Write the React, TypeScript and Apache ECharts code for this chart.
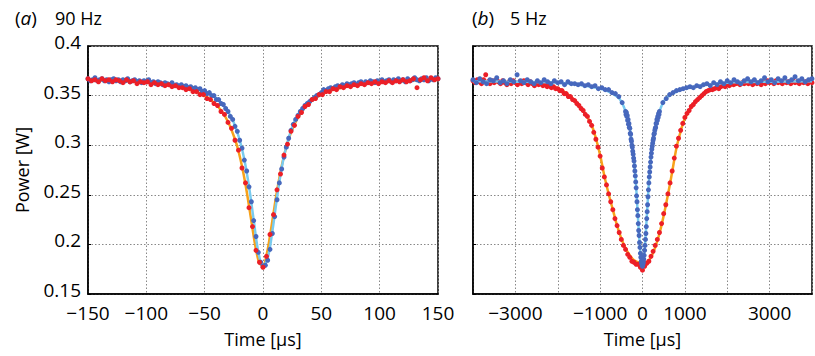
import React, { useEffect, useRef } from 'react';
import * as echarts from 'echarts';

const FONT = 'Open Sans';
const MINUS = '\u2212';

// ---- tick labels ----
const yTickValues = [0.15, 0.2, 0.25, 0.3, 0.35, 0.4];
const leftXTickValues = [-150, -100, -50, 0, 50, 100, 150];
const rightXLabelled = [-3000, -1000, 0, 1000, 3000];
const panelTags = ['a', 'b'];
const panelFreqs = ['90 Hz', '5 Hz'];

// ---- panel (a) 90 Hz : blue samples every 2 µs from -150 ----
const leftBlueStart = -150;
const leftBlueStep = 2;
const leftBlueY = [
  0.367, 0.365, 0.366, 0.368, 0.365, 0.366, 0.367, 0.365, 0.366, 0.364,
  0.366, 0.367, 0.365, 0.366, 0.364, 0.366, 0.365, 0.367, 0.364, 0.365,
  0.366, 0.364, 0.365, 0.363, 0.365, 0.364, 0.366, 0.363, 0.364, 0.362,
  0.364, 0.363, 0.361, 0.363, 0.362, 0.361, 0.363, 0.36, 0.361, 0.359,
  0.361, 0.359, 0.36, 0.358, 0.359, 0.357, 0.358, 0.356, 0.357, 0.354,
  0.355, 0.352, 0.353, 0.35, 0.35, 0.346, 0.346, 0.342, 0.341, 0.337,
  0.334, 0.329, 0.326, 0.319, 0.314, 0.305, 0.297, 0.285, 0.274, 0.258,
  0.243, 0.224, 0.208, 0.192, 0.182, 0.178, 0.179, 0.184, 0.195, 0.211,
  0.228, 0.245, 0.262, 0.276, 0.288, 0.298, 0.307, 0.315, 0.321, 0.326,
  0.33, 0.334, 0.337, 0.34, 0.342, 0.344, 0.346, 0.348, 0.35, 0.351,
  0.353, 0.356, 0.355, 0.357, 0.358, 0.357, 0.359, 0.36, 0.359, 0.361,
  0.36, 0.362, 0.361, 0.362, 0.363, 0.361, 0.363, 0.364, 0.362, 0.364,
  0.363, 0.365, 0.364, 0.363, 0.365, 0.364, 0.366, 0.364, 0.365, 0.366,
  0.364, 0.366, 0.365, 0.367, 0.365, 0.366, 0.364, 0.367, 0.365, 0.366,
  0.368, 0.366, 0.365, 0.367, 0.366, 0.368, 0.365, 0.367, 0.366, 0.368,
  0.367,
];

// ---- panel (a) 90 Hz : red samples every 3 µs from -150 ----
const leftRedStart = -150;
const leftRedStep = 3;
const leftRedY = [
  0.367, 0.365, 0.366, 0.364, 0.367, 0.365, 0.366, 0.364, 0.366, 0.365,
  0.363, 0.366, 0.364, 0.365, 0.362, 0.364, 0.363, 0.364, 0.361, 0.363,
  0.361, 0.362, 0.36, 0.361, 0.359, 0.36, 0.358, 0.358, 0.356, 0.357,
  0.354, 0.354, 0.351, 0.351, 0.347, 0.346, 0.342, 0.34, 0.334, 0.331,
  0.323, 0.317, 0.305, 0.295, 0.277, 0.262, 0.237, 0.218, 0.194, 0.182,
  0.177, 0.188, 0.21, 0.23, 0.255, 0.271, 0.29, 0.301, 0.314, 0.32,
  0.329, 0.333, 0.339, 0.341, 0.346, 0.347, 0.351, 0.351, 0.354, 0.354,
  0.357, 0.356, 0.359, 0.358, 0.36, 0.359, 0.361, 0.36, 0.362, 0.361,
  0.363, 0.362, 0.364, 0.362, 0.364, 0.363, 0.365, 0.363, 0.365, 0.364,
  0.366, 0.364, 0.365, 0.367, 0.358, 0.366, 0.368, 0.365, 0.368, 0.366,
  0.367,
];

// ---- panel (a) fitted curves ----
const leftBlueFitX = [-150, -120, -100, -80, -60, -50, -40, -35, -30, -25, -20, -16, -12, -8, -4, 0, 4, 8, 12, 16, 20, 25, 30, 35, 40, 50, 60, 80, 100, 120, 150];
const leftBlueFitY = [0.3664, 0.3654, 0.3643, 0.3624, 0.3582, 0.3542, 0.3473, 0.3418, 0.334, 0.3226, 0.3055, 0.2856, 0.2585, 0.2248, 0.1923, 0.178, 0.186, 0.213, 0.247, 0.277, 0.299, 0.318, 0.331, 0.339, 0.345, 0.353, 0.358, 0.362, 0.364, 0.365, 0.366];
const leftRedFitX = [-150, -120, -99, -81, -60, -51, -42, -36, -30, -24, -21, -18, -15, -12, -9, -6, -3, 0, 3, 6, 9, 12, 15, 18, 21, 24, 30, 36, 42, 51, 60, 81, 100, 120, 150];
const leftRedFitY = [0.3658, 0.3646, 0.3631, 0.3607, 0.355, 0.3504, 0.3429, 0.3352, 0.3237, 0.306, 0.2939, 0.2787, 0.2604, 0.239, 0.216, 0.1949, 0.1809, 0.1787, 0.1892, 0.2085, 0.2314, 0.2535, 0.273, 0.2892, 0.3023, 0.3128, 0.328, 0.3381, 0.3449, 0.3516, 0.3558, 0.361, 0.3632, 0.3648, 0.3658];

// ---- panel (b) 5 Hz : blue samples ----
const rightBlueOuterLeftStart = -4000;
const rightBlueOuterStep = 80;
const rightBlueOuterLeftY = [
  0.366, 0.363, 0.367, 0.364, 0.362, 0.366, 0.365, 0.368, 0.363, 0.365,
  0.362, 0.366, 0.364, 0.371, 0.365, 0.363, 0.366, 0.364, 0.362, 0.365,
  0.363, 0.366, 0.364, 0.362, 0.365, 0.363, 0.364, 0.361, 0.364, 0.362,
  0.362, 0.361, 0.362, 0.36, 0.361, 0.359, 0.36, 0.357, 0.358, 0.356,
  0.356, 0.353, 0.352, 0.349, 0.343,
];
const rightBlueCoreStart = -400;
const rightBlueCoreStep = 10;
const rightBlueCoreY = [
  0.334, 0.331, 0.333, 0.329, 0.33, 0.325, 0.326, 0.321, 0.322, 0.318,
  0.317, 0.312, 0.311, 0.306, 0.304, 0.3, 0.298, 0.294, 0.291, 0.287,
  0.284, 0.279, 0.274, 0.269, 0.263, 0.257, 0.249, 0.243, 0.235, 0.229,
  0.221, 0.214, 0.209, 0.202, 0.197, 0.191, 0.187, 0.183, 0.181, 0.179,
  0.178, 0.18, 0.182, 0.185, 0.189, 0.194, 0.199, 0.205, 0.211, 0.218,
  0.226, 0.233, 0.24, 0.248, 0.255, 0.262, 0.268, 0.273, 0.278, 0.283,
  0.288, 0.292, 0.296, 0.299, 0.302, 0.305, 0.307, 0.311, 0.312, 0.315,
  0.317, 0.318, 0.322, 0.322, 0.326, 0.325, 0.329, 0.328, 0.332, 0.331,
  0.334,
];
const rightBlueOuterRightStart = 480;
const rightBlueOuterRightY = [
  0.343, 0.347, 0.351, 0.353, 0.355, 0.356, 0.357, 0.358, 0.359, 0.358,
  0.36, 0.359, 0.361, 0.362, 0.36, 0.363, 0.361, 0.364, 0.362, 0.365,
  0.363, 0.366, 0.364, 0.362, 0.365, 0.367, 0.364, 0.366, 0.363, 0.365,
  0.368, 0.364, 0.366, 0.363, 0.367, 0.365, 0.368, 0.364, 0.366, 0.369,
  0.365, 0.367, 0.364, 0.366, 0.367,
];

// ---- panel (b) 5 Hz : red samples every 50 µs from -4000 ----
const rightRedStart = -4000;
const rightRedStep = 50;
const rightRedY = [
  0.365, 0.363, 0.366, 0.364, 0.362, 0.366, 0.371, 0.364, 0.362, 0.365,
  0.363, 0.366, 0.364, 0.362, 0.365, 0.363, 0.361, 0.364, 0.362, 0.365,
  0.363, 0.361, 0.364, 0.362, 0.365, 0.363, 0.361, 0.364, 0.362, 0.36,
  0.363, 0.361, 0.362, 0.36, 0.361, 0.359, 0.36, 0.358, 0.359, 0.357,
  0.357, 0.355, 0.355, 0.352, 0.352, 0.349, 0.349, 0.346, 0.345, 0.342,
  0.34, 0.337, 0.335, 0.331, 0.329, 0.324, 0.32, 0.313, 0.306, 0.298,
  0.289, 0.277, 0.268, 0.26, 0.251, 0.243, 0.235, 0.226, 0.219, 0.212,
  0.205, 0.199, 0.195, 0.19, 0.187, 0.183, 0.182, 0.18, 0.18, 0.177,
  0.174, 0.178, 0.181, 0.183, 0.188, 0.193, 0.199, 0.205, 0.212, 0.221,
  0.231, 0.24, 0.251, 0.262, 0.274, 0.287, 0.299, 0.307, 0.315, 0.322,
  0.328, 0.332, 0.335, 0.339, 0.341, 0.344, 0.346, 0.348, 0.35, 0.352,
  0.354, 0.355, 0.356, 0.356, 0.357, 0.358, 0.357, 0.359, 0.36, 0.359,
  0.361, 0.36, 0.362, 0.361, 0.362, 0.363, 0.361, 0.363, 0.362, 0.364,
  0.362, 0.363, 0.361, 0.364, 0.362, 0.363, 0.361, 0.364, 0.362, 0.365,
  0.363, 0.364, 0.362, 0.365, 0.363, 0.364, 0.362, 0.365, 0.363, 0.364,
  0.362, 0.365, 0.363, 0.364, 0.362, 0.365, 0.363, 0.364, 0.362, 0.365,
  0.363,
];

// ---- panel (b) fitted curves ----
const rightRedFitX = [-4000, -3000, -2500, -2000, -1800, -1600, -1400, -1200, -1100, -1000, -900, -800, -700, -600, -500, -400, -300, -200, -100, 0, 100, 200, 300, 400, 500, 600, 700, 800, 900, 1000, 1200, 1400, 1600, 1800, 2000, 2500, 3000, 4000];
const rightRedFitY = [0.364, 0.3635, 0.3625, 0.3575, 0.3525, 0.345, 0.335, 0.32, 0.307, 0.29, 0.269, 0.251, 0.235, 0.219, 0.206, 0.196, 0.189, 0.184, 0.182, 0.181, 0.182, 0.187, 0.197, 0.211, 0.229, 0.25, 0.273, 0.297, 0.314, 0.327, 0.341, 0.35, 0.356, 0.358, 0.36, 0.362, 0.363, 0.364];
const rightBlueFitX = [-4000, -3000, -2000, -1500, -1000, -800, -600, -500, -400, -300, -250, -200, -150, -100, -50, 0, 50, 100, 150, 200, 250, 300, 400, 500, 600, 800, 1000, 1500, 2000, 3000, 4000];
const rightBlueFitY = [0.3645, 0.364, 0.363, 0.361, 0.357, 0.354, 0.349, 0.344, 0.334, 0.317, 0.301, 0.285, 0.258, 0.222, 0.192, 0.178, 0.195, 0.227, 0.262, 0.288, 0.304, 0.317, 0.334, 0.344, 0.349, 0.354, 0.357, 0.361, 0.363, 0.364, 0.3645];

// ---- colours ----
const BLUE = '#4768bd';
const RED = '#ec1f27';
const ORANGE = '#f7a21b';
const LIGHTBLUE = '#79cbef';

function sampled(start: number, step: number, ys: number[]) {
  return ys.map((y, i) => [start + i * step, y]);
}
function paired(xs: number[], ys: number[]) {
  return xs.map((x, i) => [x, ys[i]]);
}
function signed(v: number) {
  return v < 0 ? MINUS + Math.abs(v) : String(v);
}

export default function App() {
  const ref = useRef<HTMLDivElement>(null);

  useEffect(() => {
    document.body.style.margin = '0';
    if (!ref.current) return;
    const chart = echarts.init(ref.current, null, { renderer: 'svg' });

    const lineStyleAxis = { color: '#000', width: 1.5 };
    const splitLine = { show: true, lineStyle: { color: '#888', width: 1, type: [1.5, 2] } };
    const labelStyle = { fontSize: 19, color: '#000', fontFamily: FONT };
    const nameStyle = { fontSize: 18, color: '#000', fontFamily: FONT };

    const yLabel = (v: number) => {
      const t = yTickValues.find((k) => Math.abs(k - v) < 1e-6);
      return t === undefined ? '' : String(t);
    };

    const xAxisBase = {
      type: 'value',
      axisLine: { show: true, onZero: false, lineStyle: lineStyleAxis },
      axisTick: { show: false },
      splitLine,
      name: 'Time [μs]',
      nameLocation: 'middle',
      nameGap: 36,
      nameTextStyle: nameStyle,
    };
    const yAxisBase = {
      type: 'value',
      min: 0.15,
      max: 0.4,
      interval: 0.05,
      axisLine: { show: true, onZero: false, lineStyle: lineStyleAxis },
      axisTick: { show: true, inside: true, length: 3, lineStyle: { color: '#000', width: 1 } },
      splitLine,
    };

    const scatter = (name: string, xi: number, data: number[][], color: string, z: number) => ({
      name,
      type: 'scatter',
      xAxisIndex: xi,
      yAxisIndex: xi,
      data,
      symbol: 'circle',
      symbolSize: 5,
      itemStyle: { color, opacity: 1 },
      z,
      silent: true,
    });
    const fit = (name: string, xi: number, data: number[][], color: string, z: number) => ({
      name,
      type: 'line',
      xAxisIndex: xi,
      yAxisIndex: xi,
      data,
      smooth: 0.35,
      showSymbol: false,
      symbol: 'none',
      lineStyle: { color, width: 2.5 },
      z,
      silent: true,
    });

    const titleText = (x: number, tag: string) => ({
      type: 'text',
      x,
      y: 18,
      style: {
        text: '{n|(}{i|' + tag + '}{n|)}',
        fontSize: 19,
        fontFamily: FONT,
        fill: '#000',
        verticalAlign: 'middle',
        rich: {
          n: { fontSize: 19, fontFamily: FONT, fill: '#000' },
          i: { fontSize: 19, fontFamily: FONT, fontStyle: 'italic', fill: '#000' },
        },
      },
    });
    const freqText = (x: number, text: string) => ({
      type: 'text',
      x,
      y: 18,
      style: { text, fontSize: 18, fontFamily: FONT, fill: '#000', verticalAlign: 'middle' },
    });

    chart.setOption({
      animation: false,
      textStyle: { fontFamily: FONT },
      grid: [
        { left: 88, top: 46, width: 350, height: 248, show: true, borderColor: '#000', borderWidth: 1.5, backgroundColor: 'transparent' },
        { left: 473, top: 46, width: 350, height: 248, show: true, borderColor: '#000', borderWidth: 1.5, backgroundColor: 'transparent' },
      ],
      xAxis: [
        {
          ...xAxisBase,
          gridIndex: 0,
          min: -150,
          max: 150,
          interval: 50,
          axisLabel: {
            ...labelStyle,
            margin: 11,
            lineHeight: 16,
            formatter: (v: number) => (leftXTickValues.includes(v) ? signed(v) : ''),
          },
        },
        {
          ...xAxisBase,
          gridIndex: 1,
          min: -4000,
          max: 4000,
          interval: 1000,
          axisLabel: {
            ...labelStyle,
            margin: 11,
            lineHeight: 16,
            formatter: (v: number) => (rightXLabelled.includes(v) ? signed(v) : ''),
          },
        },
      ],
      yAxis: [
        {
          ...yAxisBase,
          gridIndex: 0,
          axisLabel: { ...labelStyle, margin: 7, lineHeight: 8, verticalAlign: 'bottom', formatter: yLabel },
          name: 'Power [W]',
          nameLocation: 'middle',
          nameGap: 57,
          nameTextStyle: nameStyle,
        },
        {
          ...yAxisBase,
          gridIndex: 1,
          axisLabel: { show: false },
        },
      ],
      graphic: [
        titleText(15, panelTags[0]),
        freqText(55, panelFreqs[0]),
        titleText(472, panelTags[1]),
        freqText(510, panelFreqs[1]),
      ],
      series: [
        fit('a red fit', 0, paired(leftRedFitX, leftRedFitY), ORANGE, 2),
        fit('a blue fit', 0, paired(leftBlueFitX, leftBlueFitY), LIGHTBLUE, 2),
        scatter('a blue', 0, sampled(leftBlueStart, leftBlueStep, leftBlueY), BLUE, 3),
        scatter('a red', 0, sampled(leftRedStart, leftRedStep, leftRedY), RED, 4),
        fit('b red fit', 1, paired(rightRedFitX, rightRedFitY), ORANGE, 2),
        scatter('b red', 1, sampled(rightRedStart, rightRedStep, rightRedY), RED, 3),
        fit('b blue fit', 1, paired(rightBlueFitX, rightBlueFitY), LIGHTBLUE, 4),
        scatter('b blue outer left', 1, sampled(rightBlueOuterLeftStart, rightBlueOuterStep, rightBlueOuterLeftY), BLUE, 5),
        scatter('b blue core', 1, sampled(rightBlueCoreStart, rightBlueCoreStep, rightBlueCoreY), BLUE, 5),
        scatter('b blue outer right', 1, sampled(rightBlueOuterRightStart, rightBlueOuterStep, rightBlueOuterRightY), BLUE, 5),
      ],
    });

    return () => chart.dispose();
  }, []);

  return <div ref={ref} style={{ width: 815, height: 356 }} />;
}
